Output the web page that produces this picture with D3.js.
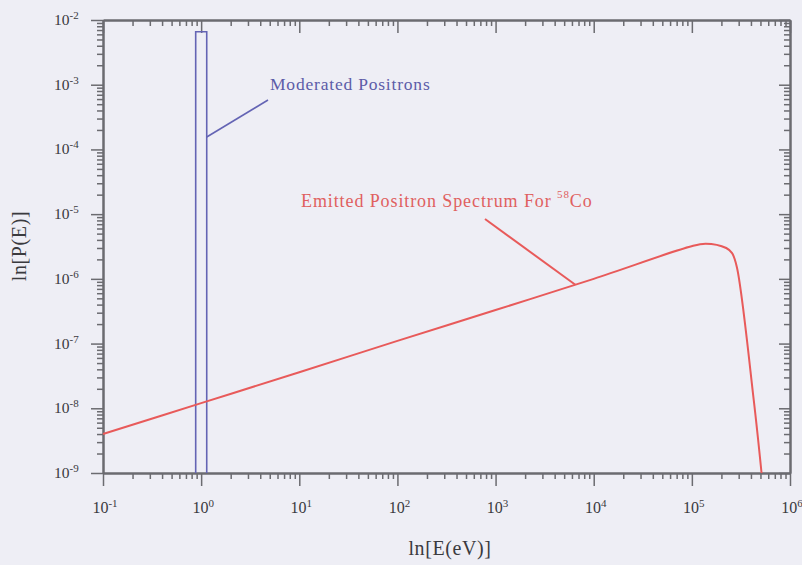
<!DOCTYPE html>
<html>
<head>
<meta charset="utf-8">
<script src="https://cdn.jsdelivr.net/npm/d3@7"></script>
<style>
  body { margin: 0; background: #eeeef5; }
  svg { display: block; }
  .axis path, .axis line { stroke: #6b6b70; }
  text { font-family: "Liberation Serif", "DejaVu Serif", serif; }
</style>
</head>
<body>
<div id="chart"></div>
<script>
// Emitted positron spectrum (energy in eV, probability)
var spectrumE = [0.1, 1, 10, 100, 1000, 1e4, 9.3e4, 1.38e5, 2.24e5, 2.57e5, 2.88e5, 4.27e5, 5.13e5];
var spectrumP = [4.0e-9, 1.2e-8, 3.6e-8, 1.1e-7, 3.3e-7, 1.0e-6, 3.1e-6, 3.5e-6, 3.0e-6, 2.5e-6, 1.5e-6, 1.35e-8, 1.0e-9];

// Moderated positrons: narrow peak around 1 eV
var moderatedE = [0.88, 0.88, 1.14, 1.14];
var moderatedP = [1e-9, 6.6e-3, 6.6e-3, 1e-9];

var xTickExp = [-1, 0, 1, 2, 3, 4, 5, 6];
var yTickExp = [-9, -8, -7, -6, -5, -4, -3, -2];

var width = 802,
    height = 565,
    margin = {top: 20, right: 12, bottom: 92, left: 103};

var svg = d3.select("#chart").append("svg")
    .attr("width", width)
    .attr("height", height);

var x = d3.scaleLog()
    .domain([1e-1, 1e6])
    .range([margin.left, width - margin.right]);

var y = d3.scaleLog()
    .domain([1e-9, 1e-2])
    .range([height - margin.bottom, margin.top]);

var majorX = xTickExp.map(function(e) { return Math.pow(10, e); }),
    majorY = yTickExp.map(function(e) { return Math.pow(10, e); });

// minor ticks are all 2..9 multiples inside the domain
function minorOf(scale) {
    return scale.ticks(100).filter(function(t) {
        var l = Math.log10(t);
        return Math.abs(l - Math.round(l)) > 1e-6;
    });
}

function addAxis(axisFn, scale, values, size, transform) {
    var g = svg.append("g")
        .attr("class", "axis")
        .attr("transform", transform)
        .call(axisFn(scale)
              .tickValues(values)
              .tickSize(size)
              .tickSizeOuter(0)
              .tickFormat(""));
    g.selectAll("line").attr("stroke-width", 1.5);
    g.select(".domain").attr("stroke-width", 2);
    return g;
}

var x0 = x.range()[0], x1 = x.range()[1],
    y0 = y.range()[0], y1 = y.range()[1];

// bottom/left ticks point out, top/right ticks point in
addAxis(d3.axisBottom, x, majorX, 13, "translate(0," + y0 + ")");
addAxis(d3.axisBottom, x, minorOf(x), 6, "translate(0," + y0 + ")");
addAxis(d3.axisTop, x, majorX, -13, "translate(0," + y1 + ")");
addAxis(d3.axisTop, x, minorOf(x), -6, "translate(0," + y1 + ")");
addAxis(d3.axisLeft, y, majorY, 12, "translate(" + x0 + ",0)");
addAxis(d3.axisLeft, y, minorOf(y), 6, "translate(" + x0 + ",0)");
addAxis(d3.axisRight, y, majorY, -11, "translate(" + x1 + ",0)");
addAxis(d3.axisRight, y, minorOf(y), -6, "translate(" + x1 + ",0)");

// power-of-ten labels
function powLabel(sel) {
    sel.append("tspan").text("10");
    sel.append("tspan")
        .attr("font-size", 11)
        .attr("dy", -6)
        .text(function(d) { return d < 0 ? "-" + (-d) : d; });
}

svg.append("g").selectAll("text")
    .data(xTickExp)
    .enter().append("text")
    .attr("x", function(d) { return x(Math.pow(10, d)) + 2; })
    .attr("y", y0 + 40)
    .attr("text-anchor", "middle")
    .attr("font-size", 16)
    .attr("fill", "#3a3a3e")
    .call(powLabel);

svg.append("g").selectAll("text")
    .data(yTickExp)
    .enter().append("text")
    .attr("x", x0 - 49)
    .attr("y", function(d) { return y(Math.pow(10, d)) + 5; })
    .attr("font-size", 15.5)
    .attr("fill", "#3a3a3e")
    .call(powLabel);

svg.append("text")
    .attr("x", 450)
    .attr("y", 555)
    .attr("text-anchor", "middle")
    .attr("font-size", 20)
    .attr("letter-spacing", 0.6)
    .attr("fill", "#3a3a3e")
    .text("ln[E(eV)]");

svg.append("text")
    .attr("transform", "translate(26,246) rotate(-90)")
    .attr("text-anchor", "middle")
    .attr("font-size", 20)
    .attr("letter-spacing", 0.6)
    .attr("fill", "#3a3a3e")
    .text("ln[P(E)]");

var line = d3.line()
    .x(function(d) { return x(d[0]); })
    .y(function(d) { return y(d[1]); });

var moderated = d3.zip(moderatedE, moderatedP);
svg.append("path")
    .attr("d", line(moderated))
    .attr("fill", "none")
    .attr("stroke", "#6464b4")
    .attr("stroke-width", 1.6);

var spectrum = d3.zip(spectrumE, spectrumP);
svg.append("path")
    .attr("d", line.curve(d3.curveCatmullRom.alpha(0.5))(spectrum))
    .attr("fill", "none")
    .attr("stroke", "#e85a5a")
    .attr("stroke-width", 2);

// annotations with leader lines
svg.append("line")
    .attr("x1", x(1.14)).attr("y1", 137)
    .attr("x2", 268).attr("y2", 100)
    .attr("stroke", "#6464b4")
    .attr("stroke-width", 1.6);

svg.append("text")
    .attr("x", 270)
    .attr("y", 90)
    .attr("font-size", 17.5)
    .attr("letter-spacing", 0.8)
    .attr("fill", "#5c5ca8")
    .text("Moderated Positrons");

svg.append("line")
    .attr("x1", 485).attr("y1", 219)
    .attr("x2", x(6500)).attr("y2", y(8.1e-7))
    .attr("stroke", "#e85a5a")
    .attr("stroke-width", 2);

var emit = svg.append("text")
    .attr("x", 301)
    .attr("y", 207)
    .attr("font-size", 18)
    .attr("letter-spacing", 0.9)
    .attr("fill", "#e06060");
emit.append("tspan").text("Emitted Positron Spectrum For ");
emit.append("tspan").attr("font-size", 11).attr("dy", -9).text("58");
emit.append("tspan").attr("dy", 9).text("Co");
</script>
</body>
</html>
